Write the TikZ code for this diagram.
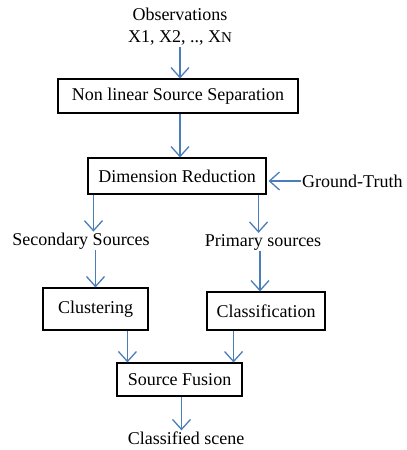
\documentclass[tikz,border=0pt]{standalone}
\usepackage{fontspec}
\setmainfont{Liberation Serif}
\usetikzlibrary{arrows.meta}
\definecolor{arrblue}{HTML}{4A7EBB}
\begin{document}
\begin{tikzpicture}[x=1pt,y=-1pt,font=\fontsize{18}{22}\selectfont,
  box/.style={draw, line width=1.1pt, inner sep=0pt, align=center},
  lbl/.style={inner sep=1pt, align=center},
  arr/.style={draw=arrblue, line width=1.3pt, -{Straight Barb[length=10pt,width=18pt]}}]
\useasboundingbox[fill=white] (0,0) rectangle (407,450);
\node[lbl] (obs) at (180,27) {Observations\\X1, X2, .., X{\fontsize{15}{15}\selectfont N}};
\node[box, minimum width=240pt, minimum height=34pt] (nlss) at (178,96) {Non linear Source Separation};
\node[box, minimum width=178pt, minimum height=36pt] (dr) at (177,176) {Dimension Reduction};
\node[lbl, anchor=west] (gt) at (301,181) {Ground-Truth};
\node[lbl] (sec) at (81,241) {Secondary Sources};
\node[lbl] (pri) at (263,242) {Primary sources};
\node[box, minimum width=105pt, minimum height=42pt] (clu) at (95.5,309) {Clustering};
\node[box, minimum width=118pt, minimum height=38pt] (cla) at (266,311) {Classification};
\node[box, minimum width=125pt, minimum height=33pt] (fus) at (179.5,379.5) {Source Fusion};
\node[lbl] (cs) at (186,438) {Classified scene};
\draw[arr] (obs.south) -- (obs.south |- nlss.north);
\draw[arr] ([xshift=2pt]nlss.south) -- ([xshift=2pt]nlss.south |- dr.north);
\draw[arr] (gt.west) -- ([xshift=2pt]dr.east |- gt.west);
\draw[arr] ([xshift=6pt]dr.south west) -- ([xshift=6pt]dr.south west |- sec.north);
\draw[arr] ([xshift=-8pt]dr.south east) -- ([xshift=-8pt]dr.south east |- pri.north);
\draw[arr] (sec.south -| clu.north) -- (clu.north);
\draw[arr] ([xshift=-3pt]pri.south) -- ([xshift=-3pt]pri.south |- cla.north);
\draw[arr] ([xshift=11pt]fus.north west |- clu.south) -- ([xshift=11pt]fus.north west);
\draw[arr] ([xshift=-9pt]fus.north east |- cla.south) -- ([xshift=-9pt]fus.north east);
\draw[arr] ([xshift=2pt]fus.south) -- ([xshift=2pt]fus.south |- cs.north);
\end{tikzpicture}
\end{document}
